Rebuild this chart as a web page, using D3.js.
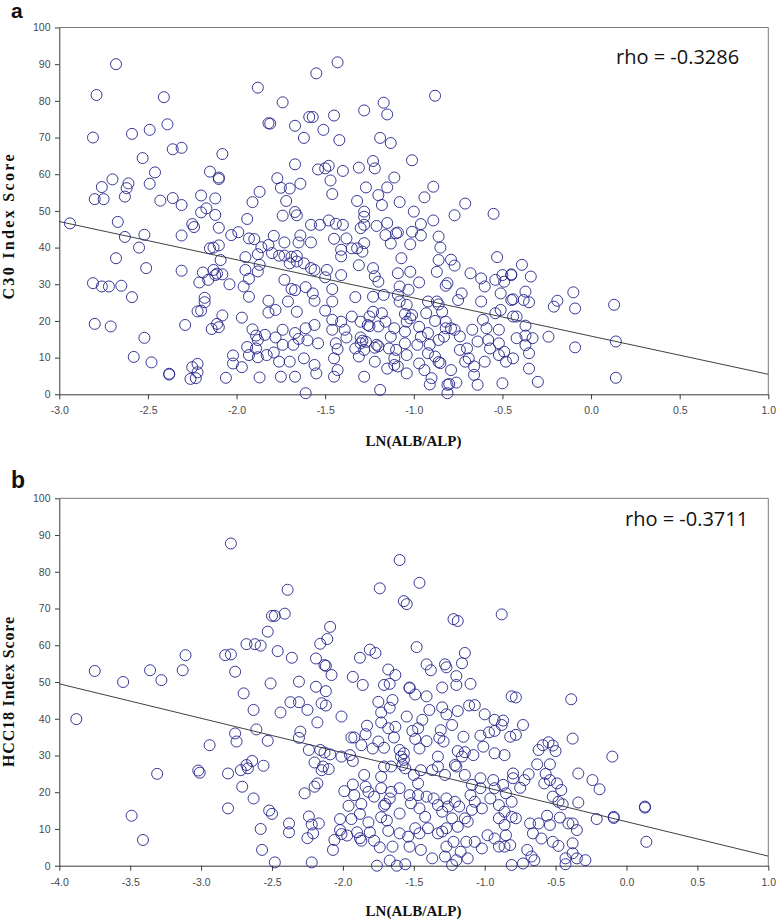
<!DOCTYPE html>
<html><head><meta charset="utf-8">
<script src="https://cdn.jsdelivr.net/npm/d3@7"></script>
<style>body{margin:0;background:#fff}</style>
</head><body>
<svg id="chart" width="778" height="921"></svg>
<script>
// ---------- DATA ----------
const panelLabels = ["a", "b"];
const yAxisTitles = ["C30 Index Score", "HCC18 Index Score"];
const xAxisTitle = "LN(ALB/ALP)";
const rhoTexts = ["rho = -0.3286", "rho = -0.3711"];
const yTicks = [0, 10, 20, 30, 40, 50, 60, 70, 80, 90, 100];
const xTicksA = [-3.0, -2.5, -2.0, -1.5, -1.0, -0.5, 0.0, 0.5, 1.0];
const xTicksB = [-4.0, -3.5, -3.0, -2.5, -2.0, -1.5, -1.0, -0.5, 0.0, 0.5, 1.0];
// regression line: value at left domain end, value at right domain end
const fitA = [47.1, 5.45];
const fitB = [49.5, 2.6];

// panel a points [LN(ALB/ALP), C30 index score]
const pointsA = [
[-2.94,46.6],[-2.81,70.0],[-2.79,81.6],[-2.68,90.0],[-2.80,53.2],[-2.75,53.2],[-2.76,56.5],[-2.70,58.6],
[-2.81,30.3],[-2.76,29.4],[-2.72,29.4],[-2.65,29.6],[-2.80,19.2],[-2.71,18.5],[-2.67,47.0],[-2.68,37.1],
[-2.63,53.9],[-2.62,56.2],[-2.61,57.5],[-2.63,42.9],[-2.59,71.0],[-2.59,26.5],[-2.55,40.0],[-2.53,64.4],
[-2.52,43.5],[-2.51,34.4],[-2.52,15.4],[-2.58,10.2],[-2.48,8.7],[-2.49,72.1],[-2.46,60.5],[-2.49,57.4],
[-2.43,52.8],[-2.41,81.0],[-2.39,73.6],[-2.36,66.8],[-2.31,67.2],[-2.36,53.5],[-2.31,51.6],[-2.31,43.3],
[-2.31,33.7],[-2.29,18.9],[-2.38,5.6],[-2.38,5.4],[-2.25,46.4],[-2.24,45.6],[-2.26,4.2],[-2.23,4.4],
[-2.25,7.4],[-2.22,8.3],[-2.22,6.0],[-2.20,54.2],[-2.20,49.6],[-2.17,50.7],[-2.15,60.7],[-2.12,48.9],
[-2.12,53.4],[-2.10,59.1],[-2.10,58.7],[-2.08,65.5],[-2.10,45.4],[-2.15,39.8],[-2.13,40.0],[-2.10,40.6],
[-2.09,36.6],[-2.21,30.5],[-2.19,33.2],[-2.16,31.2],[-2.18,26.3],[-2.18,25.1],[-2.22,22.6],[-2.20,22.8],
[-2.13,33.9],[-2.12,32.5],[-2.08,32.7],[-2.11,32.9],[-2.14,17.8],[-2.11,19.2],[-2.10,18.3],[-2.08,21.5],
[-2.06,4.5],[-2.03,43.4],[-1.99,44.2],[-2.04,30.0],[-2.02,10.6],[-2.02,8.4],[-1.97,7.4],[-1.97,20.9],
[-1.96,29.4],[-1.95,33.9],[-1.93,31.5],[-1.93,26.6],[-1.95,37.4],[-1.94,47.8],[-1.91,52.4],[-1.87,55.2],
[-1.93,42.5],[-1.90,42.3],[-1.86,40.1],[-1.88,38.2],[-1.87,35.3],[-1.88,33.5],[-1.91,17.7],[-1.89,16.0],
[-1.88,14.8],[-1.94,12.9],[-1.93,10.7],[-1.89,12.5],[-1.88,10.1],[-1.87,4.6],[-1.88,83.6],[-1.82,73.9],
[-1.43,90.5],[-1.55,87.5],[-1.74,79.6],[-1.81,73.8],[-1.59,75.6],[-1.57,75.6],[-1.45,76.0],[-1.67,73.2],
[-1.51,72.1],[-1.62,69.9],[-1.42,69.3],[-1.28,77.4],[-1.17,79.5],[-1.15,76.3],[-1.19,69.9],[-1.13,68.5],
[-0.88,81.4],[-1.01,63.8],[-1.67,62.7],[-1.54,61.3],[-1.50,61.6],[-1.48,62.3],[-1.40,60.9],[-1.31,61.8],
[-1.23,63.6],[-1.22,61.6],[-1.77,58.9],[-1.75,56.3],[-1.70,56.1],[-1.64,57.4],[-1.47,58.3],[-1.46,54.6],
[-1.27,56.4],[-1.20,54.3],[-1.18,51.6],[-1.15,56.4],[-1.11,59.1],[-1.32,52.7],[-1.28,49.8],[-1.08,52.4],
[-0.94,53.7],[-0.89,56.6],[-0.71,52.0],[-0.77,48.8],[-0.55,49.2],[-1.72,52.7],[-1.74,48.7],[-1.67,49.7],
[-1.66,48.8],[-1.58,46.2],[-1.53,46.2],[-1.48,47.4],[-1.44,46.5],[-1.40,46.2],[-1.28,46.2],[-1.30,45.3],
[-1.28,48.4],[-1.21,45.9],[-1.15,46.7],[-1.10,43.9],[-1.09,44.1],[-1.00,49.8],[-1.01,44.3],[-0.96,46.4],
[-0.96,43.3],[-0.89,47.4],[-0.86,43.0],[-1.16,43.4],[-1.13,41.1],[-1.02,40.9],[-0.85,40.0],[-0.86,36.6],
[-0.79,36.7],[-0.77,35.1],[-0.87,33.4],[-0.53,37.4],[-1.79,43.2],[-1.82,40.7],[-1.80,38.5],[-1.76,37.8],
[-1.73,37.8],[-1.69,37.5],[-1.66,37.7],[-1.73,41.4],[-1.64,43.3],[-1.65,41.4],[-1.58,41.4],[-1.45,42.4],
[-1.38,42.5],[-1.32,39.8],[-1.28,41.2],[-1.29,38.9],[-1.41,39.4],[-1.41,37.6],[-1.35,39.8],[-1.70,35.7],
[-1.66,36.2],[-1.62,35.7],[-1.58,34.4],[-1.56,33.9],[-1.49,33.9],[-1.50,31.9],[-1.41,32.5],[-1.31,35.2],
[-1.23,34.4],[-1.22,32.2],[-1.20,30.7],[-1.73,31.2],[-1.69,28.7],[-1.67,28.4],[-1.61,29.2],[-1.46,28.7],
[-1.82,25.5],[-1.78,23.0],[-1.71,25.3],[-1.66,22.5],[-1.57,27.5],[-1.56,25.5],[-1.50,22.8],[-1.46,25.3],
[-1.33,26.5],[-1.23,26.6],[-1.17,27.1],[-1.09,27.1],[-1.08,29.4],[-1.09,33.0],[-1.02,33.4],[-0.97,30.5],
[-1.07,37.1],[-1.03,28.5],[-1.08,25.3],[-1.04,24.4],[-1.05,21.9],[-1.01,21.6],[-1.02,20.7],[-1.04,19.8],
[-0.92,25.3],[-0.87,25.3],[-0.86,24.5],[-0.82,29.6],[-0.81,30.3],[-0.73,27.5],[-0.75,25.7],[-0.68,33.0],
[-0.62,31.6],[-0.54,31.2],[-0.50,32.5],[-0.49,30.7],[-0.45,32.5],[-0.60,29.4],[-0.51,27.5],[-0.45,25.7],
[-0.62,25.3],[-0.51,23.0],[-0.54,22.1],[-0.44,21.2],[-0.84,22.5],[-0.93,22.1],[-0.97,18.4],[-0.88,20.0],
[-0.82,19.8],[-0.82,18.0],[-0.79,18.0],[-0.77,17.6],[-0.74,15.8],[-0.67,17.6],[-0.61,20.3],[-0.59,18.0],
[-0.52,17.6],[-1.82,22.3],[-1.84,16.2],[-1.78,15.5],[-1.74,17.6],[-1.67,16.7],[-1.61,18.0],[-1.56,18.9],
[-1.65,15.1],[-1.60,14.7],[-1.74,13.5],[-1.68,13.5],[-1.54,13.9],[-1.83,10.7],[-1.79,11.4],[-1.76,8.9],
[-1.70,8.9],[-1.62,9.8],[-1.56,8.0],[-1.75,4.8],[-1.67,4.8],[-1.55,5.7],[-1.61,0.3],[-1.46,20.3],
[-1.41,19.8],[-1.46,17.6],[-1.39,17.6],[-1.44,13.9],[-1.38,15.5],[-1.35,21.2],[-1.30,19.8],[-1.26,18.9],
[-1.25,18.6],[-1.25,21.2],[-1.23,22.5],[-1.20,18.5],[-1.18,22.1],[-1.16,19.8],[-1.13,15.7],[-1.11,18.0],
[-1.05,17.1],[-1.30,15.5],[-1.29,14.6],[-1.30,13.9],[-1.27,14.3],[-1.33,12.5],[-1.21,13.5],[-1.20,13.1],
[-1.22,12.7],[-1.31,10.3],[-1.28,12.1],[-1.22,8.9],[-1.43,12.3],[-1.45,9.8],[-1.43,6.6],[-1.45,4.8],
[-1.28,4.8],[-1.19,1.2],[-1.14,12.5],[-1.10,12.1],[-1.05,13.9],[-1.11,9.8],[-1.15,7.0],[-1.11,8.0],
[-1.09,7.6],[-1.04,10.7],[-1.04,5.7],[-0.97,8.4],[-0.98,13.5],[-0.96,15.7],[-0.92,16.7],[-0.91,13.5],
[-0.92,11.2],[-0.86,14.8],[-0.83,15.7],[-0.88,10.3],[-0.86,8.8],[-0.85,8.5],[-0.94,6.6],[-0.90,4.4],
[-0.91,2.7],[-0.81,2.6],[-0.80,2.8],[-0.81,0.3],[-0.76,3.2],[-0.79,6.6],[-0.74,12.1],[-0.70,12.5],
[-0.69,9.8],[-0.66,7.6],[-0.66,5.3],[-0.64,2.6],[-0.64,14.4],[-0.58,14.8],[-0.52,13.9],[-0.57,12.5],
[-0.60,8.9],[-0.52,10.7],[-0.49,11.6],[-0.48,8.9],[-0.50,3.0],[-0.71,8.9],
[-0.39,35.3],[-0.45,32.7],[-0.34,32.1],[-0.44,25.9],[-0.37,28.0],[-0.38,25.7],[-0.35,25.1],[-0.21,23.9],
[-0.19,25.5],[-0.10,27.8],[-0.09,23.4],[0.13,24.4],[-0.42,21.2],[-0.37,18.7],[-0.42,15.3],[-0.37,16.0],
[-0.33,15.3],[-0.37,13.4],[-0.35,11.2],[-0.24,15.7],[-0.44,9.8],[-0.35,7.0],[-0.30,3.4],[-0.09,12.8],
[0.14,14.4],[0.14,4.5]
];

// panel b points [LN(ALB/ALP), HCC18 index score]
const pointsB = [
[-3.88,39.9],[-3.75,53.0],[-3.55,50.0],[-3.36,53.2],[-3.28,50.5],[-3.13,53.2],[-3.11,57.3],[-3.31,25.0],
[-3.49,13.6],[-3.41,7.0],[-3.02,25.9],[-3.01,25.3],[-2.94,32.8],[-2.79,87.7],[-2.83,57.3],[-2.79,57.5],
[-2.68,60.3],[-2.62,60.3],[-2.58,59.9],[-2.76,52.8],[-2.70,46.9],[-2.63,42.4],[-2.61,37.1],[-2.76,36.0],
[-2.75,33.8],[-2.81,25.1],[-2.72,26.0],[-2.68,27.4],[-2.64,28.5],[-2.67,26.5],[-2.56,27.2],[-2.71,21.5],
[-2.63,18.3],[-2.81,15.6],[-2.58,10.0],[-2.57,4.3],[-2.53,63.7],[-2.50,68.0],[-2.51,49.6],[-2.53,34.0],
[-2.52,15.0],[-2.50,14.1],[-2.48,0.9],
[-2.38,11.5],[-2.38,9.1],[-2.25,7.5],[-2.24,13.4],[-2.22,11.2],[-2.21,8.8],[-2.17,11.5],[-2.22,0.9],
[-2.07,4.3],[-2.06,7.0],[-2.02,12.7],[-2.02,9.7],[-2.01,8.6],[-1.97,8.2],[-1.96,16.3],[-1.94,12.7],
[-1.90,9.1],[-1.88,14.1],[-1.88,7.5],[-1.87,6.8],[-1.87,16.8],[-1.82,11.8],[-1.81,9.1],[-1.78,6.8],
[-1.76,0.0],[-1.74,5.0],[-1.71,16.3],[-1.70,16.8],[-1.73,13.2],[-1.69,12.3],[-1.68,9.5],[-1.67,1.4],
[-1.65,5.2],[-1.62,0.0],
[-1.60,83.2],[-1.74,75.5],[-1.46,77.0],[-1.57,72.0],[-1.55,71.2],[-0.88,68.4],[-1.22,67.1],[-1.19,66.6],
[-2.39,75.1],[-2.48,68.0],[-2.41,68.6],[-2.46,58.4],[-2.36,56.6],[-2.09,65.0],[-2.11,61.7],[-2.16,60.4],
[-2.19,56.4],[-2.13,54.6],[-2.12,54.4],[-2.08,51.9],[-2.31,50.1],[-2.19,48.7],[-2.12,47.5],[-2.37,44.5],
[-2.31,44.5],[-2.25,42.4],[-2.44,41.7],[-2.15,44.2],[-2.12,43.6],[-2.18,39.0],[-2.01,40.6],[-1.88,56.6],
[-1.81,58.8],[-1.77,57.9],[-1.93,51.4],[-1.86,49.2],[-1.68,53.4],[-1.63,51.9],[-1.71,49.2],[-1.67,49.5],
[-1.53,48.5],[-1.53,48.3],[-1.49,46.6],[-1.48,59.5],[-1.41,54.8],[-1.38,53.2],[-1.41,46.1],[-1.28,54.8],
[-1.27,54.0],[-1.16,55.1],[-1.14,57.9],[-1.20,51.6],[-1.20,49.2],[-1.10,49.5],[-1.30,48.5],[-1.39,42.4],
[-1.75,44.6],[-1.67,43.0],[-1.65,45.1],[-1.73,41.7],[-1.55,40.6],[-1.44,39.7],[-1.30,43.1],[-1.27,41.2],
[-1.19,42.1],[-1.11,43.6],[-1.07,43.7],[-1.00,41.2],[-0.93,39.7],[-0.87,39.5],[-0.81,46.1],[-2.30,36.5],
[-2.31,34.8],[-2.24,31.5],[-2.16,31.5],[-2.13,30.8],[-2.09,30.3],[-2.20,28.1],[-2.14,27.0],[-2.10,26.3],
[-2.15,26.0],[-2.01,29.7],[-1.94,34.9],[-1.92,34.9],[-1.95,30.1],[-1.93,28.5],[-1.87,32.8],[-1.84,35.8],
[-1.79,31.9],[-1.75,33.8],[-1.71,32.1],[-1.83,38.1],[-1.73,39.0],[-1.68,37.4],[-1.63,37.8],[-1.64,34.9],
[-1.60,31.5],[-1.59,29.7],[-1.57,30.6],[-1.58,27.4],[-1.51,36.7],[-1.47,37.4],[-1.49,34.5],[-1.46,31.9],
[-1.41,33.9],[-1.32,34.8],[-1.29,33.8],[-1.31,36.9],[-1.23,38.3],[-1.15,35.1],[-1.19,31.2],[-1.14,30.9],
[-1.16,29.7],[-1.08,30.1],[-1.01,32.4],[-1.03,35.4],[-0.97,36.3],[-0.93,36.7],[-0.88,38.3],[-0.82,35.1],
[-0.86,30.1],[-0.93,30.6],[-1.21,27.4],[-1.20,27.0],[-1.33,29.7],[-1.33,27.0],[-1.28,24.7],[-1.37,26.0],
[-1.45,26.0],[-1.47,22.4],[-1.50,24.7],[-1.57,28.8],[-1.56,26.5],[-1.66,27.0],[-1.71,27.0],[-1.73,24.2],
[-1.85,24.7],[-1.93,22.1],[-1.99,20.3],[-1.84,21.5],[-1.92,19.2],[-1.82,20.1],[-1.78,18.8],[-1.73,21.1],
[-1.66,20.1],[-1.60,21.1],[-1.67,18.3],
[-1.60,8.8],[-1.60,14.2],[-1.53,19.2],[-1.52,17.0],[-1.47,19.2],[-1.46,15.6],[-1.42,13.3],[-1.41,18.8],
[-1.36,18.3],[-1.33,16.5],[-1.30,14.7],[-1.27,18.3],[-1.26,16.1],[-1.21,17.4],[-1.18,16.1],[-1.33,8.8],
[-1.30,9.3],[-1.27,10.2],[-1.23,12.9],[-1.19,10.6],[-1.14,12.9],[-1.12,12.0],[-1.09,15.2],[-1.10,19.2],
[-1.07,17.4],[-1.03,21.1],[-1.03,23.8],[-1.09,22.0],[-1.14,24.7],[-1.02,15.6],[-0.96,18.3],[-0.94,23.3],
[-0.93,21.1],[-0.90,16.5],[-0.87,22.0],[-0.85,19.7],[-0.86,14.7],[-0.90,12.9],[-0.86,11.1],[-0.85,8.3],
[-0.81,17.4],[-0.80,23.8],[-0.98,8.3],[-0.90,5.2],[-0.86,5.2],[-0.93,7.4],[-0.81,0.2],[-1.02,4.7],
[-1.07,6.5],[-1.13,6.5],[-1.17,3.8],[-1.22,6.5],[-1.27,5.2],[-1.28,2.5],[-1.37,2.0],[-1.45,4.3],
[-1.46,8.8],[-1.53,5.2],[-1.54,7.9],[-1.49,10.2],[-1.40,10.2],[-1.23,0.2],[-1.20,1.5],[-1.12,2.0],
[-1.56,0.4],[-2.27,19.7],[-2.20,21.5],[-2.18,22.4],
[-0.78,45.8],[-0.39,45.3],[-0.73,38.3],[-0.78,35.6],[-0.38,34.6],[-0.10,29.7],[-0.62,31.5],[-0.59,32.8],
[-0.55,33.6],[-0.52,32.7],[-0.50,31.2],[-0.63,27.6],[-0.54,27.6],[-0.80,25.1],[-0.69,24.9],[-0.72,23.3],
[-0.75,21.2],[-0.57,25.0],[-0.54,23.3],[-0.58,22.4],[-0.49,22.4],[-0.46,20.6],[-0.34,25.1],[-0.24,23.3],
[-0.19,20.8],[-0.52,18.8],[-0.48,17.4],[-0.45,16.7],[-0.34,17.2],[-0.21,12.7],[-0.09,13.3],[-0.09,13.0],
[0.13,16.1],[0.13,15.8],[0.14,6.5],[-0.81,13.3],[-0.78,12.9],[-0.68,11.5],[-0.62,11.5],[-0.56,13.6],
[-0.54,11.1],[-0.47,13.1],[-0.41,11.5],[-0.38,11.5],[-0.35,9.7],[-0.66,8.8],[-0.60,7.4],[-0.52,6.5],
[-0.48,5.4],[-0.38,6.1],[-0.38,3.4],[-0.35,2.0],[-0.29,1.5],[-0.43,2.0],[-0.43,0.4],[-0.70,4.3],
[-0.67,2.5],[-0.65,1.5],[-0.73,0.6],[-0.82,5.6]
];

// ---------- DRAW ----------
const svg = d3.select("#chart");
const serif = "'Liberation Serif','Times New Roman',serif";
const sans = "'Liberation Sans',Arial,sans-serif";

function drawPanel(o) {
  const x = d3.scaleLinear().domain([o.xTicks[0], o.xTicks[o.xTicks.length - 1]]).range([59.3, 768.3]);
  const y = d3.scaleLinear().domain([0, 100]).range([o.bottom, o.top]);
  const g = svg.append("g");

  // frame (top & right)
  g.append("path")
    .attr("d", `M${x.range()[0]},${o.top}H${x.range()[1]}V${o.bottom}`)
    .attr("fill", "none").attr("stroke", "#7a7a7a").attr("stroke-width", 1);

  const ax = g.append("g").attr("transform", `translate(0,${o.bottom})`)
    .call(d3.axisBottom(x).tickValues(o.xTicks).tickFormat(d => d.toFixed(1))
      .tickSize(5).tickSizeOuter(0).tickPadding(7.5));
  const ay = g.append("g").attr("transform", `translate(${x.range()[0]},0)`)
    .call(d3.axisLeft(y).tickValues(yTicks).tickSize(4.3).tickSizeOuter(0).tickPadding(4.5));
  [ax, ay].forEach(a => {
    a.select(".domain").attr("stroke", "#3a3a3a");
    a.selectAll(".tick line").attr("stroke", "#3a3a3a");
    a.selectAll(".tick text").attr("fill", "#4a4a4a").style("font-family", sans).style("font-size", "10.5px");
  });

  // regression line
  g.append("line")
    .attr("x1", x(o.xTicks[0])).attr("y1", y(o.fit[0]))
    .attr("x2", x(o.xTicks[o.xTicks.length - 1])).attr("y2", y(o.fit[1]))
    .attr("stroke", "#2b2b2b").attr("stroke-width", 0.9);

  // points
  g.append("g").selectAll("circle").data(o.points).join("circle")
    .attr("cx", d => x(d[0])).attr("cy", d => y(d[1])).attr("r", 5.5)
    .attr("fill", "none").attr("stroke", "#23238a").attr("stroke-width", 0.9);

  // rho
  g.append("text").attr("x", o.rhoX).attr("y", o.rhoY).text(o.rho)
    .style("font-family", "'Open Sans',sans-serif").style("font-size", "20px").attr("fill", "#111");

  // panel letter
  g.append("text").attr("x", 11).attr("y", o.letterY).text(o.letter)
    .style("font-family", sans).style("font-weight", "bold").style("font-size", o.letterSize).attr("fill", "#111");

  // axis titles
  g.append("text").attr("x", 413.5).attr("y", o.xTitleY).attr("text-anchor", "middle").text(xAxisTitle)
    .style("font-family", serif).style("font-weight", "bold").style("font-size", "15px").attr("fill", "#111");
  g.append("text").attr("transform", `translate(14,${o.yTitleC}) rotate(-90)`)
    .attr("text-anchor", "middle").text(o.yTitle)
    .attr("textLength", o.yTitleLen).attr("lengthAdjust", "spacing")
    .style("font-family", serif).style("font-weight", "bold").style("font-size", "16px").attr("fill", "#111");
}

drawPanel({xTicks: xTicksA, top: 27.5, bottom: 394.3, points: pointsA, fit: fitA,
  rho: rhoTexts[0], rhoX: 616, rhoY: 64.3, letter: panelLabels[0], letterY: 18, letterSize: "21px",
  xTitleY: 446, yTitle: yAxisTitles[0], yTitleC: 227, yTitleLen: 145});
drawPanel({xTicks: xTicksB, top: 498.3, bottom: 865.7, points: pointsB, fit: fitB,
  rho: rhoTexts[1], rhoX: 625, rhoY: 526, letter: panelLabels[1], letterY: 488, letterSize: "23px",
  xTitleY: 916, yTitle: yAxisTitles[1], yTitleC: 692, yTitleLen: 150});
</script>
</body></html>
